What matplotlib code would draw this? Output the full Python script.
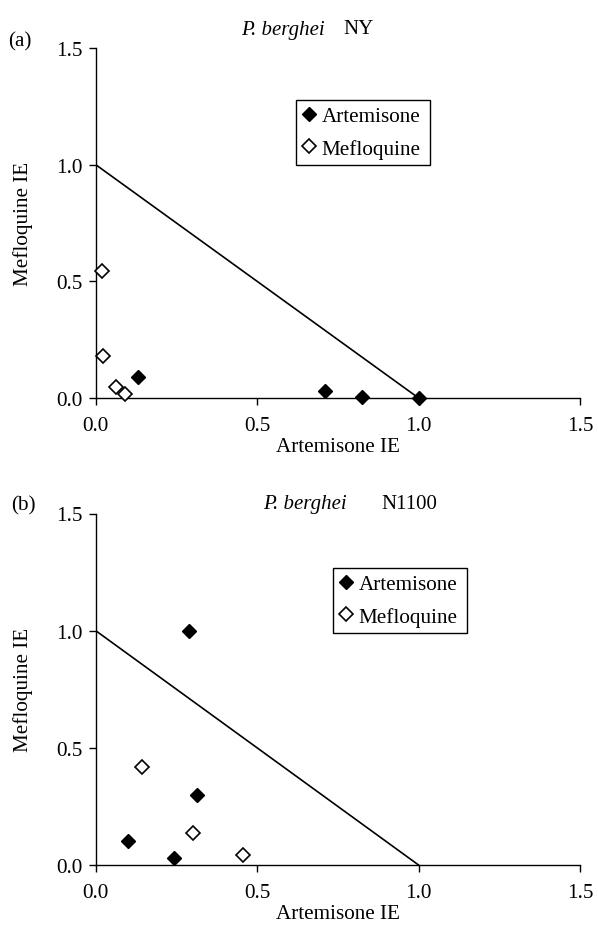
import numpy as np
import matplotlib
matplotlib.use('Agg')
import matplotlib.pyplot as plt

plt.rcParams['font.family'] = ['Liberation Serif', 'DejaVu Serif']
plt.rcParams['font.size'] = 15

# panel (a): P. berghei NY
a_art_x = [0.13, 0.71, 0.825, 1.0]
a_art_y = [0.09, 0.03, 0.006, 0.0]
a_mef_x = [0.018, 0.022, 0.062, 0.09]
a_mef_y = [0.545, 0.18, 0.048, 0.017]

# panel (b): P. berghei N1100
b_art_x = [0.29, 0.315, 0.10, 0.243]
b_art_y = [1.0, 0.30, 0.103, 0.03]
b_mef_x = [0.142, 0.30, 0.455]
b_mef_y = [0.418, 0.138, 0.043]

ticks = [0.0, 0.5, 1.0, 1.5]
tick_labels = ['0.0', '0.5', '1.0', '1.5']

fig = plt.figure(figsize=(5.98, 9.29), dpi=100)

W, H = 598.0, 929.0
x0, x1 = 95.7, 580.0
fs = 15.2

def panel(top, bot, ax_x, ax_y, mx, my, leg_box):
    ax = fig.add_axes([x0 / W, 1 - bot / H, (x1 - x0) / W, (bot - top) / H])
    ax.plot([0, 1], [1, 0], color='black', lw=1.2, zorder=2)
    ax.plot(ax_x, ax_y, linestyle='none', marker='D', ms=7, mfc='black',
            mec='black', label='Artemisone', clip_on=False, zorder=3)
    ax.plot(mx, my, linestyle='none', marker='D', ms=6.8, mfc='white',
            mec='black', mew=1.2, label='Mefloquine', clip_on=False, zorder=3)
    ax.set_xlim(0, 1.5)
    ax.set_ylim(0, 1.5)
    ax.set_xticks(ticks)
    ax.set_xticklabels(tick_labels)
    ax.set_yticks(ticks)
    ax.set_yticklabels(tick_labels)
    for s in ['top', 'right']:
        ax.spines[s].set_visible(False)
    for s in ['left', 'bottom']:
        ax.spines[s].set_linewidth(1.0)
    ax.tick_params(direction='out', length=5.2, width=1.0, labelsize=fs)
    ax.tick_params(axis='x', pad=8)
    ax.tick_params(axis='y', pad=4.5)
    ax.set_xlabel('Artemisone IE', fontsize=fs, labelpad=1.5)
    ax.set_ylabel('Mefloquine IE', fontsize=fs)
    ax.yaxis.set_label_coords(-(x0 - 33) / (x1 - x0), 0.5)
    lx0, ly0, lx1, ly1 = leg_box
    leg = ax.legend(loc='upper left',
                    bbox_to_anchor=(lx0 / W, 1 - ly1 / H, (lx1 - lx0) / W, (ly1 - ly0) / H),
                    bbox_transform=fig.transFigure, mode='expand',
                    fancybox=False, edgecolor='black', framealpha=1,
                    handlelength=0.6, handletextpad=0.3, borderpad=0.3,
                    labelspacing=0.6, borderaxespad=0, fontsize=fs)
    leg.get_frame().set_linewidth(1.0)
    return ax

panel(49, 399, a_art_x, a_art_y, a_mef_x, a_mef_y, (296, 101, 430, 165))
panel(514.5, 866, b_art_x, b_art_y, b_mef_x, b_mef_y, (333, 569, 467, 633))

fig.text(20 / W, 1 - 41.5 / H, '(a)', ha='center', va='center', fontsize=fs)
fig.text(23 / W, 1 - 506 / H, '(b)', ha='center', va='center', fontsize=fs)

fig.text(241 / W, 1 - 30 / H, 'P. berghei', ha='left', va='center', style='italic', fontsize=15)
fig.text(343 / W, 1 - 30 / H, 'NY', ha='left', va='center', fontsize=15)
fig.text(263 / W, 1 - 505 / H, 'P. berghei', ha='left', va='center', style='italic', fontsize=15)
fig.text(381 / W, 1 - 505 / H, 'N1100', ha='left', va='center', fontsize=15)

fig.savefig('out.png', dpi=100)
